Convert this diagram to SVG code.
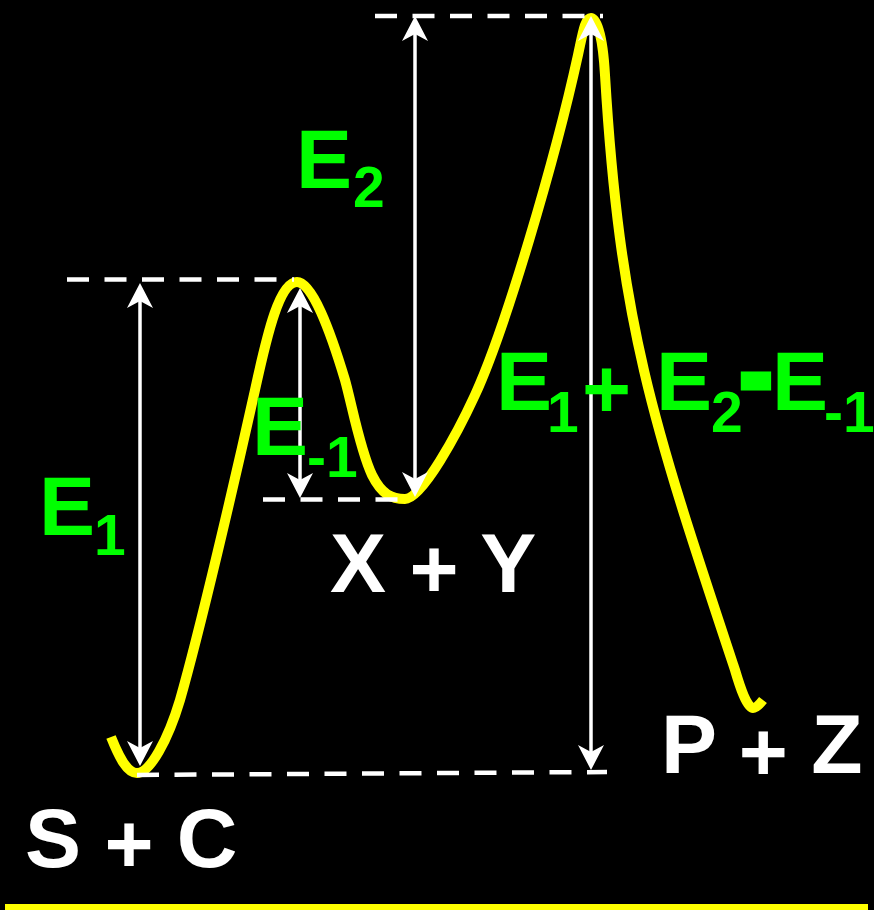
<svg xmlns="http://www.w3.org/2000/svg" width="874" height="910" viewBox="0 0 874 910">
  <defs>
    <style>
      .curve { fill: none; stroke: #ffff00; stroke-width: 10; stroke-linecap: butt; stroke-linejoin: round; }
      .guide { fill: none; stroke: #ffffff; stroke-width: 4.5; stroke-dasharray: 22 15.5; }
      .arrow { fill: none; stroke: #ffffff; stroke-width: 3.5; marker-start: url(#ah); marker-end: url(#ah); }
      .g { fill: #00ff00; font-family: "Liberation Sans", Arial, sans-serif; font-weight: bold; }
      .w { fill: #ffffff; font-family: "Liberation Sans", Arial, sans-serif; font-weight: bold; font-size: 84px; }
      .big { font-size: 84px; }
      .sub { font-size: 57px; }
    </style>
    <marker id="ah" viewBox="-16 -14 28 28" refX="0" refY="0" markerWidth="28" markerHeight="28" markerUnits="userSpaceOnUse" orient="auto-start-reverse">
      <path d="M10,0 L-15,-13 L-8,0 L-15,13 Z" fill="#ffffff"/>
    </marker>
  </defs>

  <rect x="0" y="0" width="874" height="910" fill="#000000"/>

  <g id="energy-curve">
    <path class="curve" d="M111,737 C119,757 127,773 137,773 C150,773 168,740 180,700 C200,630 235,480 255,390 C268,330 280,282 297,282 C312,282 330,330 345,380 C352,405 360,450 372,475 C382,495 392,499 405,499 C422,499 458,432 475,395 C505,330 555,160 578,55 C583,32 585,18 591,18 C598,18 603,40 605,75 C620,325 652,420 735,670 C740,687 747,708 753,708 C756,708 759,705 763,700"/>
  </g>

  <g id="guides">
    <line class="guide" x1="375" y1="16" x2="603" y2="16"/>
    <line class="guide" x1="67" y1="279.5" x2="294" y2="279.5"/>
    <line class="guide" x1="263" y1="499.5" x2="410" y2="499.5"/>
    <line class="guide" x1="137" y1="775" x2="607" y2="772"/>
  </g>

  <g id="connectors">
    <line class="arrow" x1="140" y1="293" x2="140" y2="756"/>
    <line class="arrow" x1="300" y1="298" x2="300" y2="488"/>
    <line class="arrow" x1="415" y1="26" x2="415" y2="487"/>
    <line class="arrow" x1="591" y1="26" x2="591" y2="760"/>
  </g>

  <g id="label-E2">
    <text class="g"><tspan class="big" x="296" y="188">E</tspan><tspan class="sub" x="353" y="207">2</tspan></text>
  </g>
  <g id="label-Em1">
    <text class="g"><tspan class="big" x="252" y="455">E</tspan><tspan class="sub" x="307" y="477">-1</tspan></text>
  </g>
  <g id="label-E1">
    <text class="g"><tspan class="big" x="39" y="535">E</tspan><tspan class="sub" x="94" y="555">1</tspan></text>
  </g>
  <g id="label-sum">
    <text class="g"><tspan class="big" x="496" y="410">E</tspan><tspan class="sub" x="547" y="432">1</tspan><tspan class="big" x="582" y="418">+</tspan><tspan class="big" x="656" y="410">E</tspan><tspan class="sub" x="711" y="432">2</tspan><tspan class="big" x="742" y="403" stroke="#00ff00" stroke-width="9">-</tspan><tspan class="big" x="772" y="410">E</tspan><tspan class="sub" x="824" y="432">-1</tspan></text>
  </g>

  <g id="node-XY">
    <text class="w" x="330" y="592">X <tspan dy="6">+</tspan><tspan dy="-6"> Y</tspan></text>
  </g>
  <g id="node-PZ">
    <text class="w" x="661" y="773">P <tspan dy="8">+</tspan><tspan dy="-8"> Z</tspan></text>
  </g>
  <g id="node-SC">
    <text class="w" x="25" y="867">S <tspan dy="6">+</tspan><tspan dy="-6"> C</tspan></text>
  </g>

  <rect x="5" y="904" width="863" height="6" fill="#ffff00"/>
</svg>
